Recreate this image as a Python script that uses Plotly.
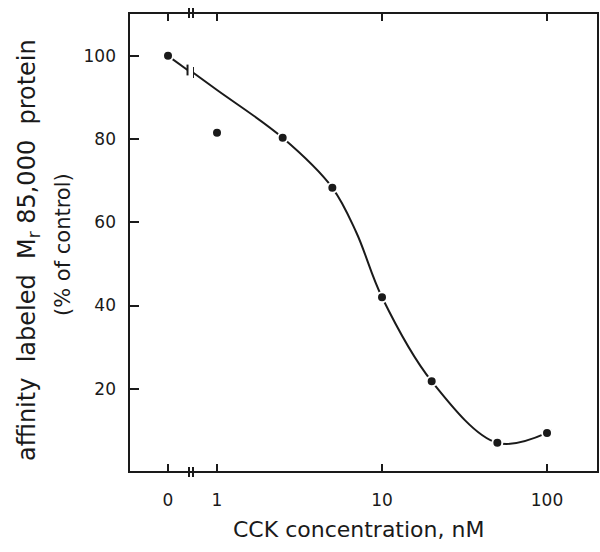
import plotly.graph_objects as go

# ---- data ----
control_x = [0]
control_y = [100]
conc_nM = [1, 2.5, 5, 10, 20, 50, 100]
pct_control = [81.5, 80.3, 68.3, 42, 21.8, 7, 9.4]

# smooth fitted curve drawn by hand in the original
fit_left_x = [0, 0.5]
fit_left_y = [100, 96.6]
fit_right_x = [0.715, 1, 2.5, 5, 7, 10, 20, 50, 100]
fit_right_y = [96.0, 91.8, 80.3, 68.3, 57.5, 42, 21.8, 7, 9.4]

x_tick_left = [0]
x_tick_left_text = ["0"]
x_tick_right = [1, 10, 100]
x_tick_right_text = ["1", "10", "100"]
y_ticks = [20, 40, 60, 80, 100]

INK = "#1a1a1a"
FONT = "DejaVu Sans"

fig = go.Figure()

line_style = dict(color=INK, width=2)
marker_style = dict(color=INK, size=10, line=dict(color="white", width=2))

fig.add_trace(go.Scatter(x=fit_left_x, y=fit_left_y, mode="lines", line=line_style,
                         xaxis="x", yaxis="y", hoverinfo="skip", showlegend=False))
fig.add_trace(go.Scatter(x=fit_right_x, y=fit_right_y, mode="lines",
                         line=dict(color=INK, width=2, shape="spline", smoothing=1.0),
                         xaxis="x2", yaxis="y", hoverinfo="skip", showlegend=False))
fig.add_trace(go.Scatter(x=control_x, y=control_y, mode="markers", marker=marker_style,
                         xaxis="x", yaxis="y", showlegend=False))
fig.add_trace(go.Scatter(x=conc_nM, y=pct_control, mode="markers", marker=marker_style,
                         xaxis="x2", yaxis="y", showlegend=False))

L, R, T, B = 129, 2, 13, 80
W, H = 600, 552
pw = W - L - R
ph = H - T - B
left_end = (189 - L) / pw
right_start = (193 - L) / pw

tickfont = dict(family=FONT, size=17, color=INK)
common_x = dict(showgrid=False, zeroline=False, showline=False, ticks="inside",
                ticklen=8, tickwidth=2, tickcolor=INK, mirror="ticks",
                tickfont=tickfont, ticklabelstandoff=16, fixedrange=True)

fig.update_layout(
    width=W, height=H,
    margin=dict(l=L, r=R, t=T, b=B),
    paper_bgcolor="white", plot_bgcolor="white",
    xaxis=dict(domain=[0, left_end], range=[-1, 0.538], anchor="y",
               tickvals=x_tick_left, ticktext=x_tick_left_text, **common_x),
    xaxis2=dict(domain=[right_start, 1], type="log", range=[-0.1455, 2.309], anchor="y",
                tickvals=x_tick_right, ticktext=x_tick_right_text, **common_x),
    yaxis=dict(domain=[0, 1], range=[0, 110.3], anchor="x", showgrid=False,
               zeroline=False, showline=False, ticks="inside", ticklen=10,
               tickwidth=2, tickcolor=INK, tickvals=y_ticks, tickfont=tickfont,
               ticklabelstandoff=12, fixedrange=True),
    yaxis2=dict(overlaying="y", matches="y", side="right", anchor="x2",
                showgrid=False, zeroline=False, showline=False, ticks="inside",
                ticklen=10, tickwidth=2, tickcolor=INK, tickvals=y_ticks,
                showticklabels=False, fixedrange=True),
)

shapes = []
# frame
shapes.append(dict(type="rect", xref="paper", yref="paper", x0=0, x1=1, y0=0, y1=1,
                   line=dict(color=INK, width=2), fillcolor="rgba(0,0,0,0)"))
# axis break marks (bottom and top)
for yb in (0, 1):
    for xb in (left_end, right_start):
        shapes.append(dict(type="line", xref="paper", yref="paper",
                           x0=xb, x1=xb, y0=yb - 0.011, y1=yb + 0.011,
                           line=dict(color=INK, width=2)))
# curve break marks
shapes.append(dict(type="line", xref="x", yref="y",
                   x0=fit_left_x[-1], x1=fit_left_x[-1],
                   y0=fit_left_y[-1] - 1.3, y1=fit_left_y[-1] + 1.3,
                   line=dict(color=INK, width=2)))
shapes.append(dict(type="line", xref="x2", yref="y",
                   x0=fit_right_x[0], x1=fit_right_x[0],
                   y0=fit_right_y[0] - 1.3, y1=fit_right_y[0] + 1.3,
                   line=dict(color=INK, width=2)))
fig.update_layout(shapes=shapes)

fig.add_annotation(text="affinity  labeled  M<sub>r</sub> 85,000  protein",
                   xref="paper", yref="paper", x=(28 - L) / pw, y=1 - (250 - T) / ph,
                   xanchor="center", yanchor="middle",
                   textangle=-90, showarrow=False,
                   font=dict(family=FONT, size=24, color=INK))
fig.add_annotation(text="(% of control)",
                   xref="paper", yref="paper", x=(63 - L) / pw, y=1 - (245 - T) / ph,
                   xanchor="center", yanchor="middle",
                   textangle=-90, showarrow=False,
                   font=dict(family=FONT, size=21, color=INK))
fig.add_annotation(text="CCK concentration, nM",
                   xref="paper", yref="paper", x=(358 - L) / pw, y=-(529 - (H - B)) / ph,
                   xanchor="center", yanchor="middle",
                   showarrow=False, font=dict(family=FONT, size=22, color=INK))

fig.write_html("out.html", config={"displayModeBar": False},
               post_script="document.body.style.margin='0px';")
